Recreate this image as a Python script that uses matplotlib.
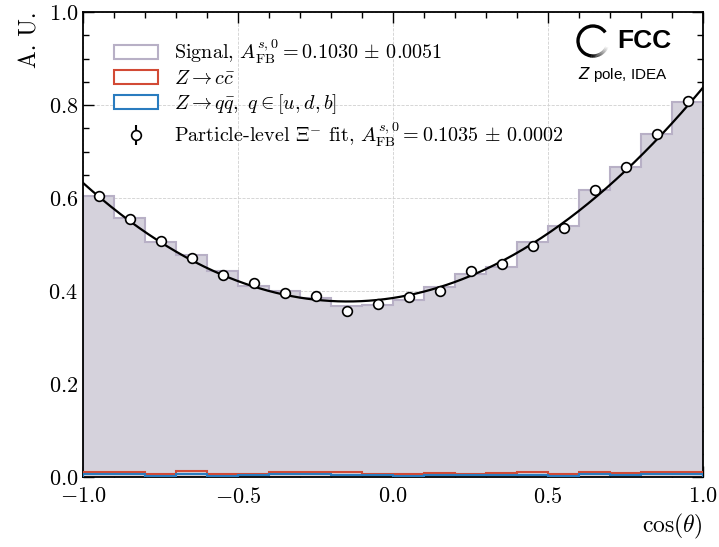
import numpy as np
import matplotlib
matplotlib.use("Agg")
import matplotlib.pyplot as plt
from matplotlib.patches import Patch, Arc
from matplotlib.ticker import MultipleLocator

plt.rcParams['font.family'] = 'serif'
plt.rcParams['font.serif'] = ['cmr10']
plt.rcParams['mathtext.fontset'] = 'cm'
plt.rcParams['axes.formatter.use_mathtext'] = True

# binning in cos(theta)
bin_edges = np.round(np.linspace(-1.0, 1.0, 21), 2)
bin_centers = 0.5 * (bin_edges[:-1] + bin_edges[1:])

# histogram contents (A.U.)
signal = [0.604, 0.556, 0.506, 0.477, 0.443, 0.411, 0.399, 0.386, 0.368, 0.370,
          0.381, 0.409, 0.436, 0.452, 0.505, 0.540, 0.617, 0.667, 0.737, 0.807]
bkg_cc = [0.011, 0.011, 0.0065, 0.012, 0.006, 0.0065, 0.010, 0.010, 0.010, 0.007,
          0.007, 0.009, 0.0065, 0.009, 0.010, 0.007, 0.010, 0.009, 0.011, 0.010]
bkg_qq = [0.006, 0.006, 0.003, 0.007, 0.003, 0.004, 0.006, 0.006, 0.004, 0.004,
          0.003, 0.004, 0.004, 0.005, 0.005, 0.003, 0.006, 0.005, 0.007, 0.006]

# particle-level points
points = [0.604, 0.555, 0.508, 0.470, 0.435, 0.418, 0.395, 0.390, 0.358, 0.371,
          0.388, 0.400, 0.444, 0.457, 0.497, 0.536, 0.618, 0.666, 0.737, 0.809]
points_err = [0.004] * 20

# fitted curve a + b*x + c*x^2
fit_a, fit_b, fit_c = 0.385, 0.1025, 0.350

sig_fill = '#d5d2dc'
sig_edge = '#b8b0c6'
red = '#d24a35'
blue = '#2a7cbf'

W, H = 719, 547
fig = plt.figure(figsize=(W / 100, H / 100), dpi=100)
ax = fig.add_axes([83 / W, 1 - 477 / H, 620 / W, 465 / H])

ax.stairs(signal, bin_edges, fill=True, color=sig_fill, zorder=1)
ax.stairs(signal, bin_edges, color=sig_edge, lw=1.5, zorder=2)
ax.stairs(bkg_cc, bin_edges, color=red, lw=1.5, zorder=3)
ax.stairs(bkg_qq, bin_edges, color=blue, lw=1.5, zorder=3)

xx = np.linspace(-1.0, 1.0, 400)
ax.plot(xx, fit_a + fit_b * xx + fit_c * xx**2, color='black', lw=1.6, zorder=4)
ax.errorbar(bin_centers, points, yerr=points_err, fmt='o', color='black',
            mfc='white', mec='black', ms=7, mew=1.2, capsize=0, zorder=5)

ax.set_xlim(-1.0, 1.0)
ax.set_ylim(0.0, 1.0)
ax.xaxis.set_major_locator(MultipleLocator(0.5))
ax.xaxis.set_minor_locator(MultipleLocator(0.1))
ax.yaxis.set_major_locator(MultipleLocator(0.2))
ax.yaxis.set_minor_locator(MultipleLocator(0.05))
ax.tick_params(which='both', direction='in', top=True, right=True, labelsize=16)
ax.tick_params(which='major', length=8, width=1)
ax.tick_params(which='minor', length=4, width=1)
ax.tick_params(axis='x', which='major', pad=7)
ax.grid(True, which='major', ls='--', lw=0.6, color='#d0d0d0', zorder=0)
ax.set_axisbelow(True)
for s in ax.spines.values():
    s.set_linewidth(1.3)

ax.set_xlabel(r'$\cos(\theta)$', fontsize=17, loc='right')
ax.set_ylabel('A. U.', fontsize=17, loc='top', labelpad=5)

eb = ax.errorbar([], [], yerr=[], fmt='o', color='black', mfc='white',
                 mec='black', ms=7, mew=1.2, capsize=3)
handles = [
    Patch(facecolor='white', edgecolor=sig_edge, lw=1.5),
    Patch(facecolor='white', edgecolor=red, lw=1.5),
    Patch(facecolor='white', edgecolor=blue, lw=1.5),
    eb,
]
labels = [
    r'Signal, $A_{\rm FB}^{s,0} = 0.1030\,\pm\,0.0051$',
    r'$Z \to c\bar{c}$',
    r'$Z \to q\bar{q},\ q \in [u, d, b]$',
    r'Particle-level $\Xi^{-}$ fit, $A_{\rm FB}^{s,0} = 0.1035\,\pm\,0.0002$',
]
ax.legend(handles, labels, loc='upper left', bbox_to_anchor=(0.02, 0.985),
          frameon=False, fontsize=14.5, handlelength=2.2, labelspacing=0.2)

# FCC logo
lax = fig.add_axes([572 / W, 1 - 62 / H, 42 / W, 42 / H])
lax.set_xlim(-21, 21)
lax.set_ylim(-21, 21)
lax.axis('off')
lax.add_patch(Arc((0, 0), 30, 30, theta1=35, theta2=262, color='black', lw=2.4))
n_fade = 18
for i in range(n_fade):
    g = i / (n_fade - 1)
    lax.add_patch(Arc((0, 0), 30, 30, theta1=260 + i * 4.5, theta2=265.5 + i * 4.5,
                      color=str(g), lw=2.4))
fig.text(617 / W, 1 - 41 / H, 'FCC', family='Liberation Sans', weight='bold',
         fontsize=19, va='center', ha='left')
fig.text(578 / W, 1 - 74 / H, r'$\mathit{Z}$ pole, IDEA', family='Liberation Sans',
         fontsize=11, va='center', ha='left', math_fontfamily='dejavusans')

fig.savefig('out.png', dpi=100)
